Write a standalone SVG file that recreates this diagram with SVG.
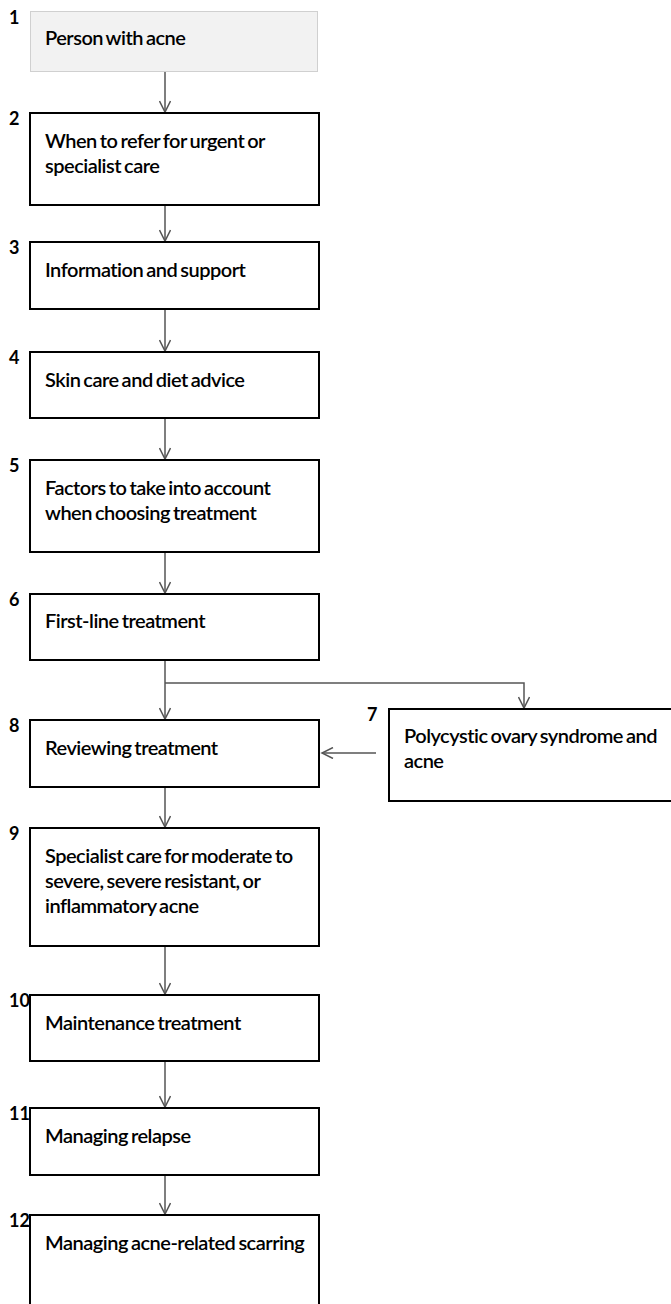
<svg xmlns="http://www.w3.org/2000/svg" width="671" height="1304" viewBox="0 0 671 1304">
<style>
.box{fill:#fff;stroke:#000;stroke-width:2}
.start{fill:#f2f2f2;stroke:#d0d0d0;stroke-width:1}
.t{font-family:Lato,"Liberation Sans",sans-serif;font-size:20px;font-weight:600;letter-spacing:-0.5px;word-spacing:-1.5px;fill:#000}
.n{font-family:Lato,"Liberation Sans",sans-serif;font-size:18px;font-weight:bold;fill:#000}
.c{fill:none;stroke:#555;stroke-width:1.5}
</style>
<defs>
<marker id="ah" viewBox="0 0 14 12" refX="12" refY="6" markerWidth="14" markerHeight="12" markerUnits="userSpaceOnUse" orient="auto">
<path d="M1,0.5 L12,6 L1,11.5" fill="none" stroke="#555" stroke-width="1.5"/>
</marker>
</defs>
<rect width="671" height="1304" fill="#fff"/>
<g id="connectors">
<path class="c" d="M165,72 V112" marker-end="url(#ah)"/>
<path class="c" d="M165,206 V241" marker-end="url(#ah)"/>
<path class="c" d="M165,310 V351" marker-end="url(#ah)"/>
<path class="c" d="M165,419 V459" marker-end="url(#ah)"/>
<path class="c" d="M165,553 V593" marker-end="url(#ah)"/>
<path class="c" d="M165,661 V719" marker-end="url(#ah)"/>
<path class="c" d="M165,683 H524 V708" marker-end="url(#ah)"/>
<path class="c" d="M376,753 H322" marker-end="url(#ah)"/>
<path class="c" d="M165,788 V827" marker-end="url(#ah)"/>
<path class="c" d="M165,947 V994" marker-end="url(#ah)"/>
<path class="c" d="M165,1062 V1107" marker-end="url(#ah)"/>
<path class="c" d="M165,1176 V1214" marker-end="url(#ah)"/>
</g>
<g id="node1"><rect class="start" x="30.5" y="11.5" width="287" height="60"/><text class="n" x="9" y="24">1</text><text class="t" x="45" y="45">Person with acne</text></g>
<g id="node2"><rect class="box" x="30" y="113" width="289" height="92"/><text class="n" x="9" y="125">2</text><text class="t" x="45" y="148">When to refer for urgent or</text><text class="t" x="45" y="173">specialist care</text></g>
<g id="node3"><rect class="box" x="30" y="242" width="289" height="67"/><text class="n" x="9" y="254">3</text><text class="t" x="45" y="277">Information and support</text></g>
<g id="node4"><rect class="box" x="30" y="352" width="289" height="66"/><text class="n" x="9" y="364">4</text><text class="t" x="45" y="387">Skin care and diet advice</text></g>
<g id="node5"><rect class="box" x="30" y="460" width="289" height="92"/><text class="n" x="9" y="472">5</text><text class="t" x="45" y="495">Factors to take into account</text><text class="t" x="45" y="520">when choosing treatment</text></g>
<g id="node6"><rect class="box" x="30" y="594" width="289" height="66"/><text class="n" x="9" y="606">6</text><text class="t" x="45" y="628">First-line treatment</text></g>
<g id="node7"><rect class="box" x="389" y="709" width="284" height="92"/><text class="n" x="367" y="721">7</text><text class="t" x="404" y="743">Polycystic ovary syndrome and</text><text class="t" x="404" y="768">acne</text></g>
<g id="node8"><rect class="box" x="30" y="720" width="289" height="67"/><text class="n" x="9" y="732">8</text><text class="t" x="45" y="755">Reviewing treatment</text></g>
<g id="node9"><rect class="box" x="30" y="828" width="289" height="118"/><text class="n" x="9" y="840">9</text><text class="t" x="45" y="863">Specialist care for moderate to</text><text class="t" x="45" y="888">severe, severe resistant, or</text><text class="t" x="45" y="913">inflammatory acne</text></g>
<g id="node10"><rect class="box" x="30" y="995" width="289" height="66"/><text class="n" x="9" y="1007">10</text><text class="t" x="45" y="1030">Maintenance treatment</text></g>
<g id="node11"><rect class="box" x="30" y="1108" width="289" height="67"/><text class="n" x="9" y="1120">11</text><text class="t" x="45" y="1143">Managing relapse</text></g>
<g id="node12"><rect class="box" x="30" y="1215" width="289" height="100"/><text class="n" x="9" y="1227">12</text><text class="t" x="45" y="1250">Managing acne-related scarring</text></g>
</svg>
